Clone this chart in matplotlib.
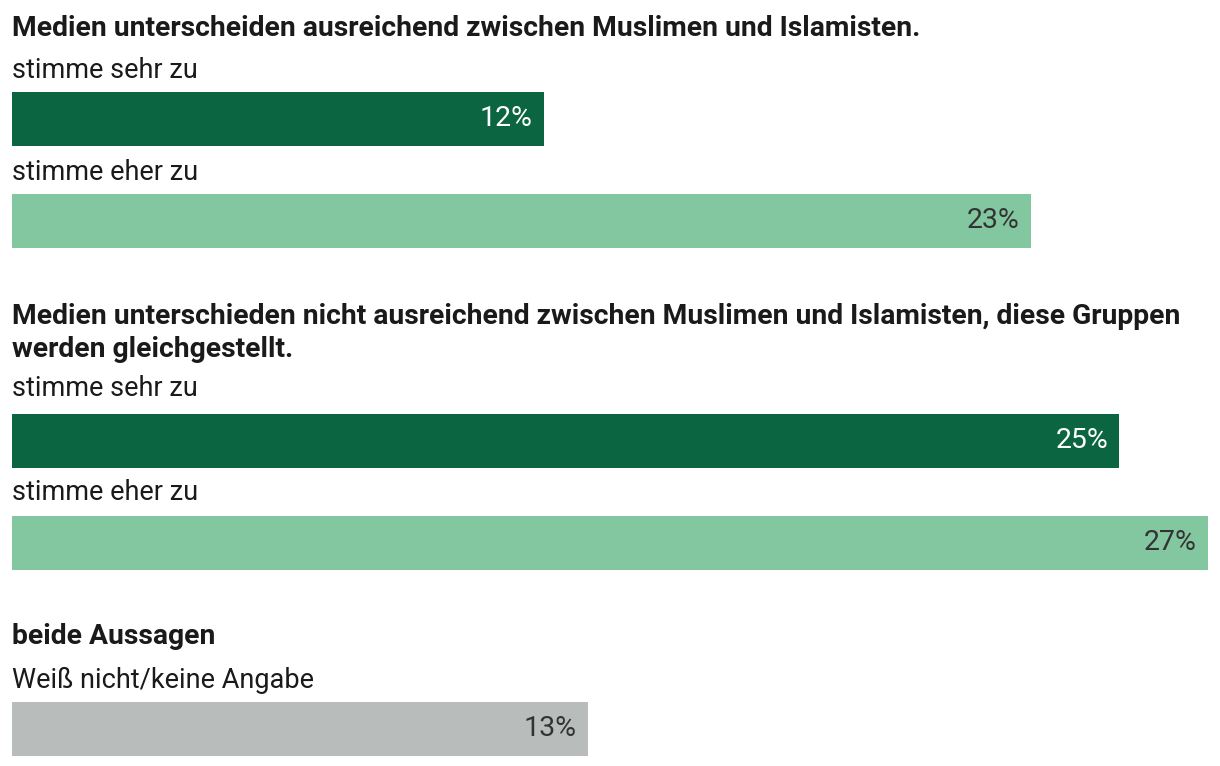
import matplotlib.pyplot as plt

# --- data ---
headings = [
    "Medien unterscheiden ausreichend zwischen Muslimen und Islamisten.",
    "Medien unterschieden nicht ausreichend zwischen Muslimen und Islamisten, diese Gruppen\nwerden gleichgestellt.",
    "beide Aussagen",
]
labels = ["stimme sehr zu", "stimme eher zu", "stimme sehr zu", "stimme eher zu",
          "Weiß nicht/keine Angabe"]
values = [12, 23, 25, 27, 13]
kinds = ["sehr", "eher", "sehr", "eher", "na"]

colors = {"sehr": "#0b6541", "eher": "#82c7a0", "na": "#b8bdbb"}
txt_colors = {"sehr": "white", "eher": "#333333", "na": "#333333"}

W, H = 1220, 766
fig = plt.figure(figsize=(W / 100, H / 100), dpi=100)
# axes spans x 12..1208 px, full height; y in pixel units (inverted)
ax = fig.add_axes([12 / W, 0, 1196 / W, 1])
ax.set_xlim(0, 27)
ax.set_ylim(H, 0)
ax.axis("off")

# layout (pixel rows)
bar_centers = [119, 221, 441, 543, 729]
label_y = [70, 172, 389, 493, 680]
head_y = [28, 333, 637]
bar_h = 54

ax.barh(bar_centers, values, height=bar_h,
        color=[colors[k] for k in kinds], edgecolor="none")

font = "Roboto"
for v, yc, k in zip(values, bar_centers, kinds):
    ax.text(v - 0.25, yc, f"{v}%", ha="right", va="center", fontsize=20.5,
            color=txt_colors[k], family=font, fontweight="normal")

for lab, y in zip(labels, label_y):
    ax.text(0, y, lab, ha="left", va="center", fontsize=19.5, color="#1a1a1a",
            family=font, fontweight="normal")

for h, y in zip(headings, head_y):
    ax.text(0, y, h, ha="left", va="center", fontsize=20.3, color="#1a1a1a",
            family=font, fontweight="bold", linespacing=1.25)

fig.savefig("out.png", dpi=100)
